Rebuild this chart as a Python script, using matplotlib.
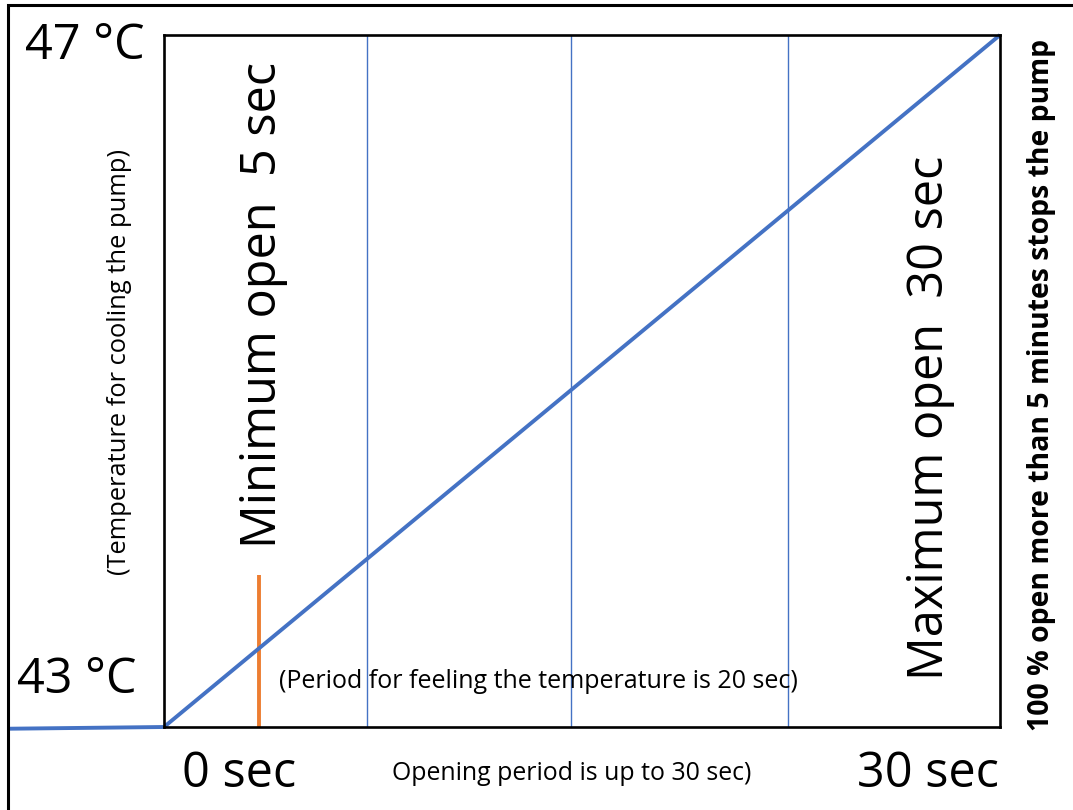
import matplotlib
matplotlib.use('Agg')
import matplotlib.pyplot as plt
from matplotlib.patches import Rectangle

# opening time (sec) vs. temperature (°C)
time_sec = [-5.6, 0.0, 30.0]
temp_c = [42.99, 43.0, 47.0]
grid_sec = [7.3, 14.6, 22.4]
marker_sec = 3.4
marker_top = 43.88

W, H = 1073, 810
FONT = 'Open Sans'
BLUE = '#4472C4'
ORANGE = '#ED7D31'


def px(x, y):
    return x / W, 1 - y / H


fig = plt.figure(figsize=(W / 100, H / 100), dpi=100)
fig.patch.set_facecolor('white')

# outer frame (only top and left edges visible)
fig.patches.append(Rectangle(px(8, 900), (W + 50) / W, 895 / H,
                             transform=fig.transFigure, fill=False,
                             edgecolor='black', linewidth=2.2))

ax = fig.add_axes([164 / W, 1 - 727 / H, 836 / W, 692 / H])
ax.set_xlim(0, 30)
ax.set_ylim(43, 47)
ax.set_xticks([])
ax.set_yticks([])
for s in ax.spines.values():
    s.set_linewidth(1.9)
    s.set_color('black')

for g in grid_sec:
    ax.axvline(g, color=BLUE, linewidth=1.0)
ax.plot([marker_sec, marker_sec], [43, marker_top], color=ORANGE,
        linewidth=2.8, clip_on=False, solid_capstyle='butt')
ax.plot(time_sec, temp_c, color=BLUE, linewidth=2.8, clip_on=False,
        solid_capstyle='butt')

big = dict(fontsize=35, family=FONT, ha='center', va='center')
fig.text(*px(85, 46), '47 °C', **big)
fig.text(*px(77, 680), '43 °C', **big)
fig.text(*px(239, 774), '0 sec', **big)
fig.text(*px(928, 774), '30 sec', **big)
fig.text(*px(263, 305), 'Minimum open  5 sec', rotation=90, **big)
fig.text(*px(930, 418), 'Maximum open  30 sec', rotation=90, **big)

fig.text(*px(572, 773), 'Opening period is up to 30 sec)', fontsize=17.9,
         family=FONT, ha='center', va='center')
fig.text(*px(538, 682), '(Period for feeling the temperature is 20 sec)',
         fontsize=18, family=FONT, ha='center', va='center')
fig.text(*px(119, 362), '(Temperature for cooling the pump)', fontsize=18.4,
         family=FONT, rotation=90, ha='center', va='center')
fig.text(*px(1042, 385), '100 % open more than 5 minutes stops the pump',
         fontsize=20.4, family=FONT, weight='bold', rotation=90,
         ha='center', va='center')

fig.savefig('out.png', dpi=100)
